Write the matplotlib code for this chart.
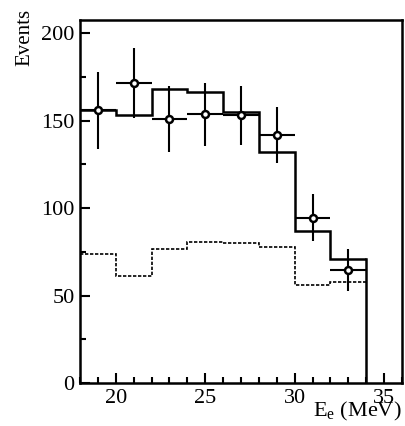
import numpy as np
import matplotlib.pyplot as plt
from matplotlib.ticker import MultipleLocator

plt.rcParams['font.family'] = ['Liberation Serif', 'DejaVu Serif']
plt.rcParams['mathtext.fontset'] = 'custom'
plt.rcParams['mathtext.rm'] = 'Liberation Serif'

# bin edges (MeV)
edges = [18, 20, 22, 24, 26, 28, 30, 32, 34]
# solid histogram (fit / MC total)
hist_total = [156, 153, 168, 166.5, 155, 132, 87, 71]
# dotted histogram (component)
hist_part = [74, 61, 76.5, 80.5, 80, 77.5, 56, 58]
# data points
data_x = [19, 21, 23, 25, 27, 29, 31, 33]
data_y = [156, 171.5, 151, 153.5, 153, 142, 94.5, 64.5]
data_err = [22, 20, 19, 18, 17, 16, 13.5, 12]

fig = plt.figure(figsize=(4.06, 4.26), dpi=100)
ax = fig.add_axes([80/406, 1 - 383/426, 322/406, 363/426])

ax.stairs(hist_total, edges, color='black', lw=1.8, baseline=None)
ax.plot([edges[-1], edges[-1]], [hist_total[-1], 0], color='black', lw=1.8)
ax.stairs(hist_part, edges, color='black', lw=1.2, ls=(0, (2, 1)), baseline=None)

xerr = np.diff(edges) / 2
ax.errorbar(data_x, data_y, yerr=data_err, xerr=xerr, fmt='o', color='black',
            ms=5, mfc='white', mec='black', mew=1.8, elinewidth=1.5, capsize=0)

ax.set_xlim(18, 36)
ax.set_ylim(0, 207.5)
ax.xaxis.set_major_locator(MultipleLocator(5))
ax.xaxis.set_minor_locator(MultipleLocator(1))
ax.yaxis.set_major_locator(MultipleLocator(50))
ax.yaxis.set_minor_locator(MultipleLocator(25))
ax.tick_params(which='both', direction='in', top=False, right=False,
               labelsize=16, width=1.5)
ax.tick_params(which='major', length=7, pad=4)
ax.tick_params(which='minor', length=4)
for s in ax.spines.values():
    s.set_linewidth(1.8)

fig.text(25/406, 1 - 9/426, 'Events', fontsize=15, rotation=90,
         ha='center', va='top')
ax.set_xlabel(r'E$_{\mathrm{e}}$ (MeV)', fontsize=16)
ax.xaxis.set_label_coords(1.0, -0.046)
ax.xaxis.label.set_ha('right')
ax.xaxis.label.set_va('top')

fig.savefig('out.png', dpi=100)
